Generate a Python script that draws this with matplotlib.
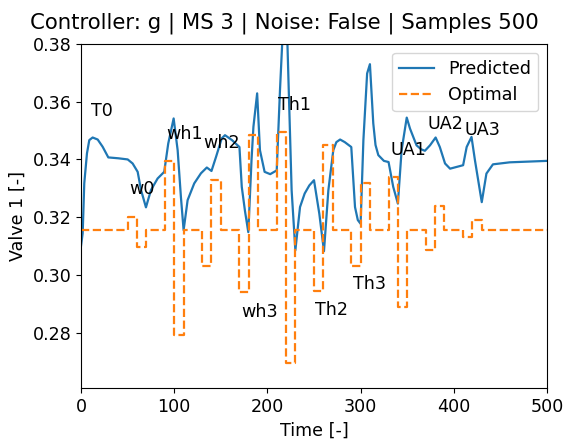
import matplotlib
matplotlib.use("Agg")
import matplotlib.pyplot as plt
import numpy as np

# Predicted valve trajectory
t_pred = [0, 1.8, 3.5, 6.4, 8.9, 12.5, 17.9, 23.2, 29.3, 40, 50.1, 55.4, 60.8, 64.4,
          69.7, 72, 75.1, 82.2, 89.3, 93.6, 99.4, 103.7, 107.2, 110.1, 114.4, 121.5,
          128.7, 135, 140, 145, 151, 154.5, 162, 170, 172.5, 176, 179.5, 183, 185, 189,
          192, 197, 203, 210, 213.5, 216, 218.5, 221.5, 226, 230, 235, 240, 245, 250,
          255.7, 260.7, 265.4, 270.7, 274, 278, 283, 290, 294, 297, 300, 303, 307, 310,
          313.6, 316, 319, 325, 330, 335, 340, 344, 349.5, 353, 360, 365, 369, 374.5,
          380.5, 385, 390.6, 396, 410, 413.8, 419, 422.7, 430, 435, 442, 460, 500]
v_pred = [0.310, 0.3144, 0.3317, 0.3421, 0.3467, 0.3476, 0.3469, 0.3444, 0.3407,
          0.3404, 0.340, 0.3386, 0.3357, 0.3294, 0.3234, 0.326, 0.3294, 0.3334, 0.3357,
          0.3455, 0.3542, 0.3432, 0.327, 0.3155, 0.3259, 0.3317, 0.3352, 0.3372, 0.336,
          0.341, 0.3473, 0.3484, 0.3467, 0.3443, 0.3305, 0.322, 0.3148, 0.340, 0.3513,
          0.3629, 0.3432, 0.3357, 0.3349, 0.3362, 0.364, 0.381, 0.395, 0.380, 0.3293,
          0.3085, 0.3235, 0.3282, 0.331, 0.3328, 0.3212, 0.3082, 0.3293, 0.3432, 0.346,
          0.3469, 0.346, 0.3443, 0.3235, 0.319, 0.3177, 0.3467, 0.3698, 0.373, 0.3525,
          0.345, 0.3415, 0.3395, 0.3391, 0.3305, 0.3247, 0.3432, 0.3545, 0.3507, 0.3449,
          0.3435, 0.343, 0.3449, 0.3476, 0.3443, 0.3386, 0.3368, 0.338, 0.3443, 0.3478,
          0.3397, 0.3252, 0.3351, 0.3383, 0.339, 0.3395]

# Optimal valve steps: start times and values
t_opt = [0, 50, 60, 70, 90, 100, 110, 130, 140, 150, 170, 180, 190, 210, 220, 230,
         250, 260, 270, 290, 300, 310, 330, 340, 350, 370, 380, 390, 410, 420, 430, 500]
v_opt = [0.3155, 0.320, 0.3095, 0.3155, 0.3395, 0.279, 0.3155, 0.303, 0.333, 0.3155,
         0.294, 0.3485, 0.3155, 0.3495, 0.2695, 0.3155, 0.2945, 0.345, 0.3155, 0.303,
         0.332, 0.3155, 0.334, 0.289, 0.3155, 0.3085, 0.324, 0.3155, 0.313, 0.319,
         0.3155, 0.3155]

# Annotations
ann_labels = ["T0", "w0", "wh1", "wh2", "wh3", "Th1", "Th2", "Th3", "UA1", "UA2", "UA3"]
ann_t = [10.7, 51.8, 91, 131, 171.7, 211, 251, 291.5, 332, 371.6, 412]
ann_v = [0.355, 0.328, 0.347, 0.344, 0.2855, 0.357, 0.286, 0.295, 0.3415, 0.3505, 0.3485]

FS = 12.6
fig = plt.figure(figsize=(5.67, 4.4), dpi=100)
W, H = 567, 440
ax = fig.add_axes([81 / W, (H - 388) / H, (547 - 81) / W, (388 - 44) / H])

ax.plot(t_pred, v_pred, color="#1f77b4", lw=1.6, label="Predicted")
ax.step(t_opt, v_opt, where="post", color="#ff7f0e", lw=1.6, ls="--", label="Optimal")

for lab, tt, vv in zip(ann_labels, ann_t, ann_v):
    ax.text(tt, vv, lab, fontsize=FS)

ax.set_xlim(0, 500)
ax.set_ylim(0.2608, 0.38)
ax.set_yticks([0.28, 0.30, 0.32, 0.34, 0.36, 0.38])
ax.tick_params(labelsize=FS)
ax.set_xlabel("Time [-]", fontsize=FS)
ax.set_ylabel("Valve 1 [-]", fontsize=FS)
fig.text(284 / W, (H - 28) / H, "Controller: g | MS 3 | Noise: False | Samples 500",
         fontsize=15.3, ha="center", va="baseline")
ax.legend(loc="upper right", fontsize=FS)

fig.savefig("out.png", dpi=100)
